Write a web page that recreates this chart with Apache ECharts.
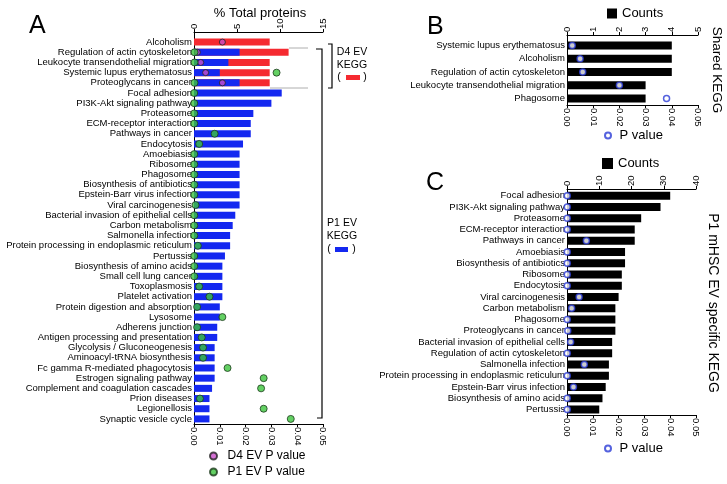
<!DOCTYPE html>
<html>
<head>
<meta charset="utf-8">
<script src="https://cdn.jsdelivr.net/npm/echarts@6/dist/echarts.min.js"></script>
<style>
  html, body { margin: 0; padding: 0; background: #fff; }
  #chart { width: 727px; height: 484px; }
</style>
</head>
<body>
<div id="chart"></div>
<script>
// panel A
const aCategories = ['Alcoholism', 'Regulation of actin cytoskeleton', 'Leukocyte transendothelial migration',
  'Systemic lupus erythematosus', 'Proteoglycans in cancer', 'Focal adhesion', 'PI3K-Akt signaling pathway',
  'Proteasome', 'ECM-receptor interaction', 'Pathways in cancer', 'Endocytosis', 'Amoebiasis', 'Ribosome',
  'Phagosome', 'Biosynthesis of antibiotics', 'Epstein-Barr virus infection', 'Viral carcinogenesis',
  'Bacterial invasion of epithelial cells', 'Carbon metabolism', 'Salmonella infection',
  'Protein processing in endoplasmic reticulum', 'Pertussis', 'Biosynthesis of amino acids',
  'Small cell lung cancer', 'Toxoplasmosis', 'Platelet activation', 'Protein digestion and absorption',
  'Lysosome', 'Adherens junction', 'Antigen processing and presentation', 'Glycolysis / Gluconeogenesis',
  'Aminoacyl-tRNA biosynthesis', 'Fc gamma R-mediated phagocytosis', 'Estrogen signaling pathway',
  'Complement and coagulation cascades', 'Prion diseases', 'Legionellosis', 'Synaptic vesicle cycle'];
const d4Pct = [8.8, 11.0, 8.8, 8.8, 8.8];
const p1Pct = [null, 5.3, 4.0, 3.0, 5.3, 10.2, 9.0, 6.9, 6.6, 6.6, 5.7, 5.3, 5.3, 5.3, 5.3, 5.3, 5.3,
  4.8, 4.5, 4.2, 4.2, 3.6, 3.3, 3.3, 3.3, 3.3, 3.0, 3.0, 2.7, 2.7, 2.4, 2.4, 2.4, 2.4, 2.1, 1.8, 1.8, 1.8];
const d4P = [0.011, 0.0013, 0.0026, 0.0045, 0.011];
const p1P = [null, 0.0002, 0.0002, 0.032, 0.0002, 0.0001, 0.0001, 0.0001, 0.0001, 0.008, 0.002, 0.0001,
  0.0001, 0.0001, 0.0001, 0.0001, 0.0006, 0.0001, 0.0001, 0.0001, 0.0015, 0.0001, 0.0001, 0.0001, 0.002,
  0.006, 0.0012, 0.011, 0.0012, 0.003, 0.0035, 0.0035, 0.013, 0.027, 0.026, 0.0023, 0.027, 0.0375];

// panel B
const bCategories = ['Systemic lupus erythematosus', 'Alcoholism', 'Regulation of actin cytoskeleton',
  'Leukocyte transendothelial migration', 'Phagosome'];
const bCounts = [4, 4, 4, 3, 3];
const bP = [0.002, 0.005, 0.006, 0.020, 0.038];

// panel C
const cCategories = ['Focal adhesion', 'PI3K-Akt signaling pathway', 'Proteasome', 'ECM-receptor interaction',
  'Pathways in cancer', 'Amoebiasis', 'Biosynthesis of antibiotics', 'Ribosome', 'Endocytosis',
  'Viral carcinogenesis', 'Carbon metabolism', 'Phagosome', 'Proteoglycans in cancer',
  'Bacterial invasion of epithelial cells', 'Regulation of actin cytoskeleton', 'Salmonella infection',
  'Protein processing in endoplasmic reticulum', 'Epstein-Barr virus infection', 'Biosynthesis of amino acids',
  'Pertussis'];
const cCounts = [32, 29, 23, 21, 21, 18, 18, 17, 17, 16, 15, 15, 15, 14, 14, 13, 13, 12, 11, 10];
const cP = [0.0001, 0.0001, 0.0001, 0.0001, 0.0075, 0.0001, 0.0001, 0.0001, 0.0001, 0.0047, 0.0018, 0.0001,
  0.0003, 0.0014, 0.0001, 0.0067, 0.0001, 0.0025, 0.0001, 0.0001];

const FONT = 'Liberation Sans';
const RED = '#f52a30';
const BLUE = '#1428f0';
const RING = '#2b3bd6';

function pts (vals) {
  let out = [];
  vals.forEach((v, i) => { if (v != null) out.push([v, i]); });
  return out;
}

function xAxis (grid, pos, max, interval, digits, offset) {
  return {
    type: 'value', gridIndex: grid, position: pos, min: 0, max: max, interval: interval, offset: offset || 0,
    splitLine: { show: false },
    axisLine: { show: true, lineStyle: { color: '#000', width: 1 } },
    axisTick: { show: true, length: 3, lineStyle: { color: '#000' } },
    axisLabel: {
      rotate: -90, fontSize: 9.5, fontFamily: FONT, color: '#000', margin: 3,
      formatter: v => v.toFixed(digits)
    }
  };
}

function yAxis (grid, cats, size) {
  return {
    type: 'category', gridIndex: grid, data: cats, inverse: true,
    axisLine: { show: true, lineStyle: { color: '#000', width: 1 } },
    axisTick: { show: false },
    axisLabel: { fontSize: size, fontFamily: FONT, color: '#000', margin: 2, interval: 0 }
  };
}

function legendText (size) {
  return { fontSize: size, fontFamily: FONT, color: '#000' };
}

const chart = echarts.init(document.getElementById('chart'));

const option = {
  animation: false,
  textStyle: { fontFamily: FONT },
  grid: [
    { left: 194, top: 37, width: 129, height: 387 },
    { left: 567, top: 39, width: 131, height: 66 },
    { left: 567, top: 190, width: 129, height: 225 }
  ],
  xAxis: [
    xAxis(0, 'top', 15, 5, 0, 5),
    xAxis(0, 'bottom', 0.05, 0.01, 2),
    xAxis(1, 'top', 5, 1, 0, 4),
    xAxis(1, 'bottom', 0.05, 0.01, 2),
    xAxis(2, 'top', 40, 10, 0, 1),
    xAxis(2, 'bottom', 0.05, 0.01, 2)
  ],
  yAxis: [
    yAxis(0, aCategories, 9.5),
    yAxis(1, bCategories, 9.5),
    yAxis(2, cCategories, 9.5)
  ],
  legend: [
    {
      data: ['D4 EV P value', 'P1 EV P value'], orient: 'vertical', left: 209, top: 449, padding: 0,
      itemWidth: 18, itemHeight: 7, itemGap: 2, selectedMode: false,
      textStyle: { fontSize: 12, fontFamily: FONT, color: '#000', lineHeight: 14 }
    },
    {
      data: ['Counts'], left: 607, top: 7, padding: 0, icon: 'rect', itemWidth: 10, itemHeight: 10,
      selectedMode: false, textStyle: legendText(13)
    },
    {
      data: ['P value'], left: 604, top: 129, padding: 0, itemWidth: 13, itemHeight: 6,
      selectedMode: false, textStyle: legendText(13)
    },
    {
      data: ['Counts'], left: 602, top: 157, padding: 0, icon: 'rect', itemWidth: 11, itemHeight: 11,
      selectedMode: false, textStyle: legendText(13)
    },
    {
      data: ['P value'], left: 604, top: 442, padding: 0, itemWidth: 13, itemHeight: 6,
      selectedMode: false, textStyle: legendText(13)
    }
  ],
  series: [
    {
      name: 'D4 EV KEGG', type: 'bar', xAxisIndex: 0, yAxisIndex: 0, data: d4Pct,
      barWidth: 7, barGap: '-100%', itemStyle: { color: RED }
    },
    {
      name: 'P1 EV KEGG', type: 'bar', xAxisIndex: 0, yAxisIndex: 0, data: p1Pct,
      barWidth: 7, barGap: '-100%', itemStyle: { color: BLUE }
    },
    {
      name: 'D4 EV P value', type: 'scatter', xAxisIndex: 1, yAxisIndex: 0, data: pts(d4P), z: 4,
      symbolSize: 6, itemStyle: { color: '#c94cc9', borderColor: '#222', borderWidth: 1 }
    },
    {
      name: 'P1 EV P value', type: 'scatter', xAxisIndex: 1, yAxisIndex: 0, data: pts(p1P), z: 4,
      symbolSize: 7, itemStyle: { color: '#3cc43c', borderColor: '#1b3a1b', borderWidth: 1 }
    },
    {
      name: 'Counts', type: 'bar', xAxisIndex: 2, yAxisIndex: 1, data: bCounts,
      barWidth: 8, itemStyle: { color: '#000' }
    },
    {
      name: 'P value', type: 'scatter', xAxisIndex: 3, yAxisIndex: 1, data: pts(bP), z: 4,
      symbolSize: 6, itemStyle: { color: '#fff', borderColor: RING, borderWidth: 1.5 }
    },
    {
      name: 'Counts', type: 'bar', xAxisIndex: 4, yAxisIndex: 2, data: cCounts,
      barWidth: 8, itemStyle: { color: '#000' }
    },
    {
      name: 'P value', type: 'scatter', xAxisIndex: 5, yAxisIndex: 2, data: pts(cP), z: 4,
      symbolSize: 6, itemStyle: { color: '#fff', borderColor: RING, borderWidth: 1.5 }
    }
  ],
  graphic: [
    { type: 'text', x: 29, y: 14, style: { text: 'A', fontSize: 25, fontFamily: FONT, fill: '#000' } },
    { type: 'text', x: 427, y: 15, style: { text: 'B', fontSize: 25, fontFamily: FONT, fill: '#000' } },
    { type: 'text', x: 426, y: 171, style: { text: 'C', fontSize: 25, fontFamily: FONT, fill: '#000' } },
    { type: 'text', x: 260, y: 13, style: { text: '% Total proteins', fontSize: 13, fontFamily: FONT, fill: '#000', align: 'center', verticalAlign: 'middle' } },
    // connect left axes to the offset top axes
    { type: 'line', shape: { x1: 194.5, y1: 32, x2: 194.5, y2: 37 }, style: { stroke: '#000', lineWidth: 1 } },
    { type: 'line', shape: { x1: 567.5, y1: 35, x2: 567.5, y2: 39 }, style: { stroke: '#000', lineWidth: 1 } },
    // thin separators around the shared rows
    { type: 'line', shape: { x1: 289, y1: 48, x2: 308, y2: 48 }, style: { stroke: '#9a9a9a', lineWidth: 0.8 } },
    { type: 'line', shape: { x1: 270, y1: 88, x2: 308, y2: 88 }, style: { stroke: '#9a9a9a', lineWidth: 0.8 } },
    // brackets
    { type: 'polyline', shape: { points: [[328, 44], [332, 44], [332, 88], [328, 88]] }, style: { stroke: '#000', lineWidth: 1.2, fill: null } },
    { type: 'polyline', shape: { points: [[316, 49], [322, 49], [322, 418], [317, 418]] }, style: { stroke: '#000', lineWidth: 1.2, fill: null } },
    { type: 'text', x: 352, y: 52, style: { text: 'D4 EV', fontSize: 10.5, fontFamily: FONT, fill: '#000', align: 'center', verticalAlign: 'middle' } },
    { type: 'text', x: 352, y: 65, style: { text: 'KEGG', fontSize: 10.5, fontFamily: FONT, fill: '#000', align: 'center', verticalAlign: 'middle' } },
    { type: 'text', x: 339, y: 77, style: { text: '(', fontSize: 10.5, fontFamily: FONT, fill: '#000', align: 'center', verticalAlign: 'middle' } },
    { type: 'rect', shape: { x: 346, y: 75, width: 14, height: 5 }, style: { fill: RED } },
    { type: 'text', x: 365, y: 77, style: { text: ')', fontSize: 10.5, fontFamily: FONT, fill: '#000', align: 'center', verticalAlign: 'middle' } },
    { type: 'text', x: 342, y: 223, style: { text: 'P1 EV', fontSize: 10.5, fontFamily: FONT, fill: '#000', align: 'center', verticalAlign: 'middle' } },
    { type: 'text', x: 342, y: 236, style: { text: 'KEGG', fontSize: 10.5, fontFamily: FONT, fill: '#000', align: 'center', verticalAlign: 'middle' } },
    { type: 'text', x: 329, y: 249, style: { text: '(', fontSize: 10.5, fontFamily: FONT, fill: '#000', align: 'center', verticalAlign: 'middle' } },
    { type: 'rect', shape: { x: 335, y: 247, width: 13, height: 5 }, style: { fill: BLUE } },
    { type: 'text', x: 354, y: 249, style: { text: ')', fontSize: 10.5, fontFamily: FONT, fill: '#000', align: 'center', verticalAlign: 'middle' } },
    // side titles
    { type: 'text', x: 717, y: 70, rotation: -Math.PI / 2, style: { text: 'Shared KEGG', fontSize: 13.5, fontFamily: FONT, fill: '#000', align: 'center', verticalAlign: 'middle' } },
    { type: 'text', x: 713, y: 303, rotation: -Math.PI / 2, style: { text: 'P1 mHSC EV specific KEGG', fontSize: 14, fontFamily: FONT, fill: '#000', align: 'center', verticalAlign: 'middle' } }
  ]
};

chart.setOption(option);
</script>
</body>
</html>
